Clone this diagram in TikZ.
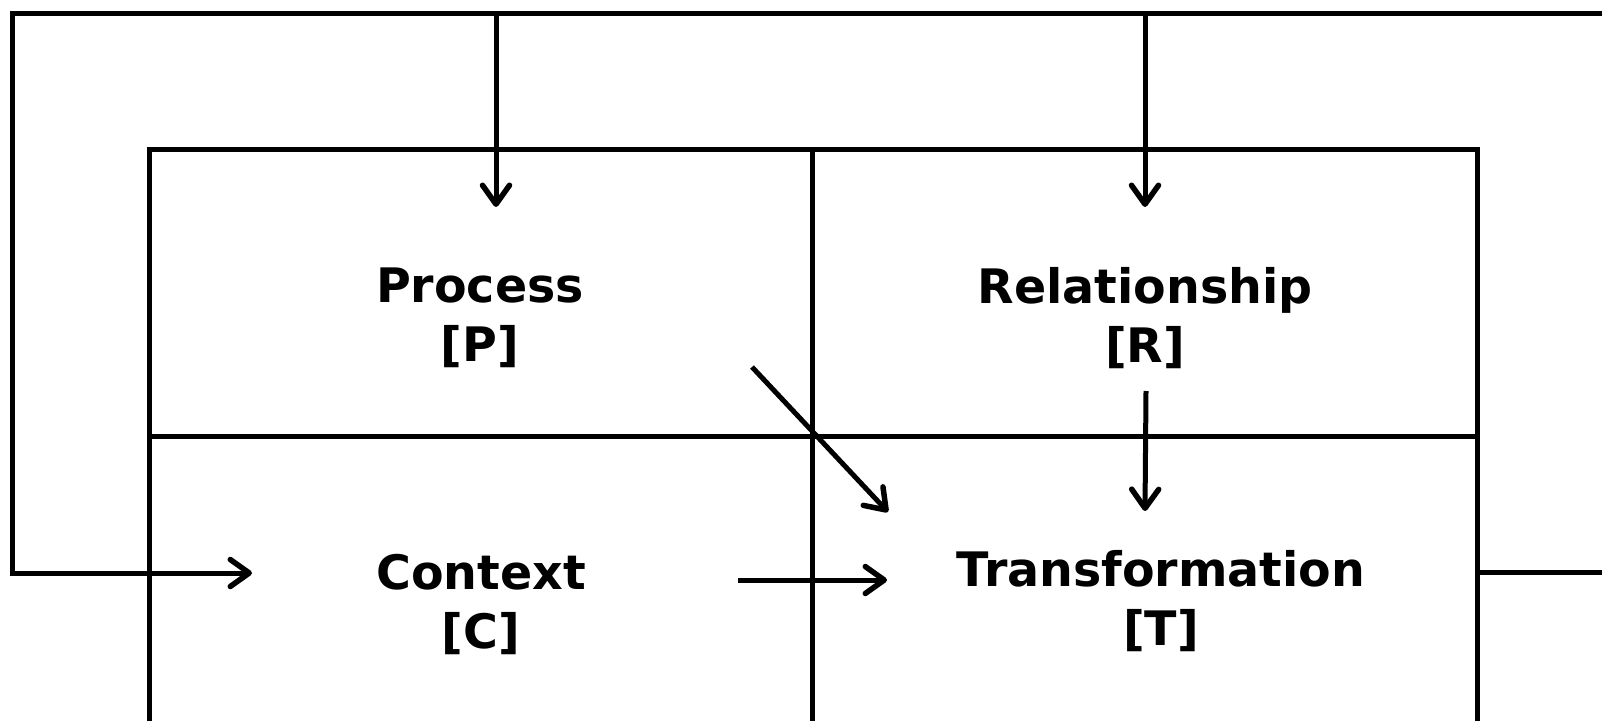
\documentclass[tikz,border=0pt]{standalone}
\usepackage{fontspec}
\setmainfont{DejaVu Sans}
\usetikzlibrary{arrows.meta}
\begin{document}
\begin{tikzpicture}[x=1pt,y=-1pt,line width=5pt,
  arr/.style={-{Straight Barb[length=19pt,width=27pt,line width=5.5pt,round]}},
  lbl/.style={font=\fontsize{47.5}{59}\selectfont\bfseries,align=center,inner sep=0pt}]
\useasboundingbox (0,0) rectangle (1602,720);
% frame grid
\draw (149,740) -- (149,149) -- (1477,149) -- (1477,740);
\draw (812,149) -- (812,740);
\draw (149,436) -- (1477,436);
% labels
\node[lbl] (P) at (480,318) {Process\\{[P]}};
\node[lbl] (R) at (1145,318) {Relationship\\{[R]}};
\node[lbl] (C) at (481,604) {Context\\{[C]}};
\node[lbl] (T) at (1161,601) {Transformation\\{[T]}};
% coordinates
\coordinate (topR) at (1604,13);
\coordinate (topL) at (12,13);
\coordinate (botL) at (12,573);
\coordinate (cIn) at (252,573);
\coordinate (pTop) at (496,13);
\coordinate (pIn) at (496,207);
\coordinate (rTop) at (1145,13);
\coordinate (rIn) at (1145,207);
\coordinate (pOut) at (752,367);
\coordinate (tInD) at (888,512);
\coordinate (rOut) at (1146,391);
\coordinate (tInR) at (1145,511);
\coordinate (cOut) at (738,580);
\coordinate (tInC) at (887,580);
\coordinate (tOut) at (1477,572);
\coordinate (exitR) at (1604,572);
% feedback loop
\draw[arr,line join=miter] (topR) -- (topL) -- (botL) -- (cIn);
\draw[arr] (pTop) -- (pIn);
\draw[arr] (rTop) -- (rIn);
\draw (tOut) -- (exitR);
% inner arrows
\draw[arr] (pOut) -- (tInD);
\draw[arr] (rOut) -- (tInR);
\draw[arr] (cOut) -- (tInC);
\end{tikzpicture}
\end{document}
